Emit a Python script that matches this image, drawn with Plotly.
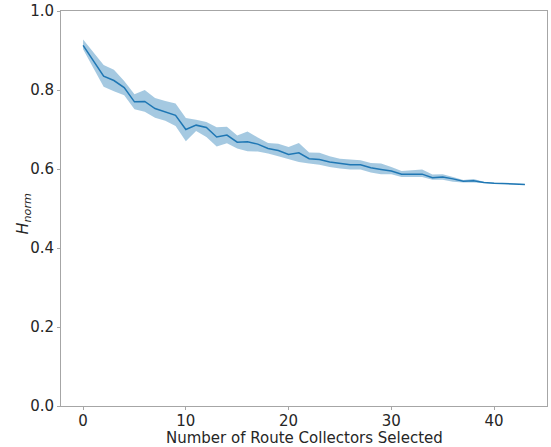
import plotly.graph_objects as go

x_vals = list(range(44))
mean_vals = [0.913, 0.875, 0.835, 0.824, 0.806, 0.770, 0.771, 0.753, 0.745, 0.736,
             0.700, 0.711, 0.705, 0.681, 0.686, 0.668, 0.669, 0.663, 0.652, 0.647,
             0.637, 0.641, 0.626, 0.624, 0.618, 0.614, 0.611, 0.611, 0.603, 0.599,
             0.595, 0.587, 0.587, 0.587, 0.578, 0.580, 0.575, 0.569, 0.570, 0.566,
             0.564, 0.563, 0.562, 0.561]
upper_vals = [0.928, 0.895, 0.863, 0.851, 0.823, 0.789, 0.800, 0.780, 0.772, 0.766,
              0.729, 0.725, 0.719, 0.706, 0.707, 0.685, 0.695, 0.680, 0.666, 0.664,
              0.656, 0.666, 0.642, 0.641, 0.632, 0.626, 0.624, 0.622, 0.615, 0.614,
              0.605, 0.595, 0.597, 0.599, 0.586, 0.587, 0.580, 0.572, 0.575, 0.568,
              0.565, 0.564, 0.563, 0.562]
lower_vals = [0.903, 0.855, 0.808, 0.797, 0.787, 0.751, 0.745, 0.730, 0.722, 0.709,
              0.670, 0.696, 0.681, 0.657, 0.665, 0.652, 0.645, 0.644, 0.639, 0.632,
              0.625, 0.618, 0.614, 0.611, 0.605, 0.601, 0.599, 0.599, 0.591, 0.587,
              0.587, 0.580, 0.580, 0.580, 0.573, 0.573, 0.568, 0.566, 0.566, 0.564,
              0.563, 0.562, 0.561, 0.560]

x_ticks = [0, 10, 20, 30, 40]
y_ticks = [0.0, 0.2, 0.4, 0.6, 0.8, 1.0]
y_tick_text = ["0.0", "0.2", "0.4", "0.6", "0.8", "1.0"]

color = "#1f77b4"
fill = "rgba(31,119,180,0.4)"

fig = go.Figure()
fig.add_trace(go.Scatter(x=x_vals, y=upper_vals, mode="lines", line=dict(width=0),
                         hoverinfo="skip", showlegend=False))
fig.add_trace(go.Scatter(x=x_vals, y=lower_vals, mode="lines", line=dict(width=0),
                         fill="tonexty", fillcolor=fill, hoverinfo="skip", showlegend=False))
fig.add_trace(go.Scatter(x=x_vals, y=mean_vals, mode="lines",
                         line=dict(color=color, width=1.5), showlegend=False))

axis_common = dict(showgrid=False, zeroline=False, showline=True, mirror=True,
                   linecolor="#a6a6a6", linewidth=1, ticks="outside", ticklen=3,
                   tickcolor="#a6a6a6", tickwidth=1,
                   tickfont=dict(family="DejaVu Sans", size=15, color="#262626"))

fig.update_layout(
    width=551, height=447,
    margin=dict(l=61, r=4, t=11, b=41),
    paper_bgcolor="white", plot_bgcolor="white",
    font=dict(family="DejaVu Sans", size=15, color="#262626"),
    xaxis=dict(range=[-2.15, 45.15], tickvals=x_ticks, automargin=False,
               ticklabelstandoff=-2, **axis_common),
    yaxis=dict(range=[0, 1], tickvals=y_ticks, ticktext=y_tick_text, automargin=False,
               **axis_common),
    annotations=[
        dict(text="<i>H</i><sub><i>norm</i></sub>", xref="paper", yref="paper",
             x=0, y=0.5, xanchor="center", yanchor="middle", xshift=-38,
             yshift=-5, textangle=-90, showarrow=False,
             font=dict(family="DejaVu Sans", size=16, color="#262626")),
        dict(text="Number of Route Collectors Selected", xref="paper", yref="paper",
             x=0.5, y=0, xanchor="center", yanchor="top", yshift=-21,
             showarrow=False,
             font=dict(family="DejaVu Sans", size=15, color="#262626")),
    ],
)

fig.write_html("out.html",
               config={"displayModeBar": False},
               post_script="document.body.style.margin='0';document.body.style.overflow='hidden';")
